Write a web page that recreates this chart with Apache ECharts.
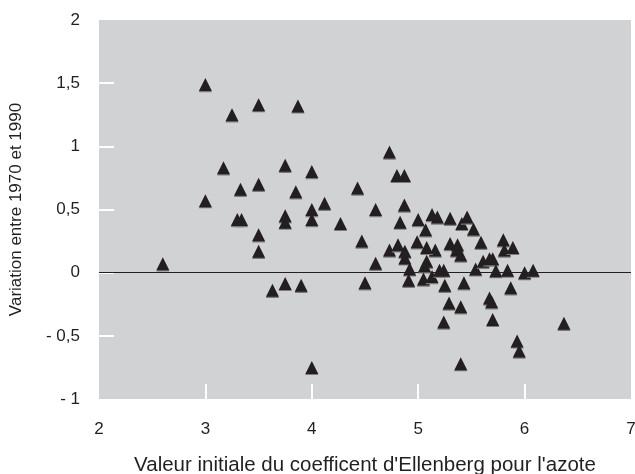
<!DOCTYPE html>
<html>
<head>
<meta charset="utf-8">
<script src="https://cdn.jsdelivr.net/npm/echarts@6/dist/echarts.min.js"></script>
<style>
html,body{margin:0;padding:0;background:#fff;}
#chart{width:635px;height:474px;}
</style>
</head>
<body>
<div id="chart"></div>
<script>
// Initial Ellenberg nitrogen value (x) for each species
const initialValue = [
  3.00, 3.25, 3.50, 3.87, 3.17, 3.75, 4.00, 3.33, 3.50, 3.85,
  4.43, 3.00, 4.12, 4.00, 3.30, 3.34, 3.75, 3.75, 4.00, 4.27,
  3.50, 3.50, 4.47, 2.60, 3.63, 3.75, 3.90, 4.50, 4.00, 4.73,
  4.80, 4.87, 4.60, 4.87, 4.83, 5.00, 5.13, 5.18, 5.30, 5.07,
  4.99, 5.41, 5.46, 5.52, 5.59, 5.80, 4.73, 4.81, 4.875, 4.875,
  4.60, 4.92, 4.91, 5.08, 5.06, 5.16, 5.05, 5.13, 5.20, 5.24,
  5.25, 5.29, 5.24, 5.40, 5.43, 5.40, 5.54, 5.61, 5.67, 5.70,
  5.73, 5.84, 6.00, 6.08, 5.87, 5.67, 5.69, 5.70, 5.93, 5.95,
  6.37, 5.81, 5.89, 5.08, 5.30, 5.37, 5.36, 5.40
];
// Variation between 1970 and 1990 (y)
const variation = [
  1.49, 1.25, 1.33, 1.32, 0.83, 0.85, 0.80, 0.66, 0.70, 0.64,
  0.67, 0.57, 0.55, 0.50, 0.42, 0.42, 0.45, 0.40, 0.42, 0.39,
  0.30, 0.17, 0.25, 0.07, -0.14, -0.085, -0.10, -0.08, -0.75, 0.955,
  0.77, 0.77, 0.50, 0.535, 0.40, 0.42, 0.46, 0.44, 0.43, 0.34,
  0.245, 0.39, 0.44, 0.345, 0.24, 0.26, 0.18, 0.22, 0.17, 0.117,
  0.074, 0.03, -0.06, 0.09, 0.055, 0.18, -0.05, -0.03, 0.02, 0.02,
  -0.10, -0.24, -0.39, -0.27, -0.08, -0.72, 0.03, 0.09, 0.11, 0.11,
  0.016, 0.02, 0.00, 0.02, -0.12, -0.20, -0.23, -0.37, -0.54, -0.62,
  -0.40, 0.18, 0.20, 0.20, 0.23, 0.22, 0.18, 0.14
];
const xAxisTitle = "Valeur initiale du coefficent d'Ellenberg pour l'azote";
const yAxisTitle = "Variation entre 1970 et 1990";
const xRange = [2, 7];
const yRange = [-1, 2];
const xInnerTicks = [3, 4, 5, 6];
const yInnerTicks = [-0.5, 0, 0.5, 1, 1.5];

const points = initialValue.map((x, i) => [x, variation[i]]);
const textColor = '#231f20';
const fontFamily = '"Liberation Sans", Arial, Helvetica, sans-serif';
const frNum = v => String(v).replace('.', ',').replace('-', '- ');

const chart = echarts.init(document.getElementById('chart'), null, {renderer: 'canvas'});
chart.setOption({
  animation: false,
  backgroundColor: '#ffffff',
  grid: {
    left: 99, right: 4, top: 20, bottom: 75,
    containLabel: false, outerBoundsMode: 'none',
    show: true, backgroundColor: '#d1d2d4', borderWidth: 0
  },
  xAxis: {
    type: 'value', min: xRange[0], max: xRange[1], interval: 1,
    name: xAxisTitle, nameLocation: 'middle', nameGap: 56,
    nameTextStyle: {color: textColor, fontSize: 20.5, fontFamily: fontFamily},
    axisLine: {show: false, onZero: false},
    axisTick: {show: true, inside: true, length: 15, customValues: xInnerTicks, lineStyle: {color: '#ffffff', width: 2}},
    axisLabel: {color: textColor, fontSize: 17, fontFamily: fontFamily, margin: 22, formatter: frNum},
    splitLine: {show: false}
  },
  yAxis: {
    type: 'value', min: yRange[0], max: yRange[1], interval: 0.5,
    name: yAxisTitle, nameLocation: 'middle', nameGap: 74, nameRotate: 90,
    nameTextStyle: {color: textColor, fontSize: 17, fontFamily: fontFamily},
    axisLine: {show: false, onZero: false},
    axisTick: {show: true, inside: true, length: 15, customValues: yInnerTicks, lineStyle: {color: '#ffffff', width: 2}},
    axisLabel: {color: textColor, fontSize: 17, fontFamily: fontFamily, margin: 19, formatter: frNum},
    splitLine: {show: false}
  },
  series: [{
    type: 'scatter',
    data: points,
    symbol: 'triangle',
    symbolSize: 13,
    itemStyle: {color: textColor, opacity: 1, shadowColor: '#7a7a7a', shadowOffsetY: 1.2, shadowBlur: 0},
    markLine: {
      silent: true,
      symbol: ['none', 'none'],
      label: {show: false},
      lineStyle: {color: textColor, width: 1.2, type: 'solid'},
      data: [{yAxis: 0}],
      z: 1
    },
    z: 3
  }]
});
</script>
</body>
</html>
